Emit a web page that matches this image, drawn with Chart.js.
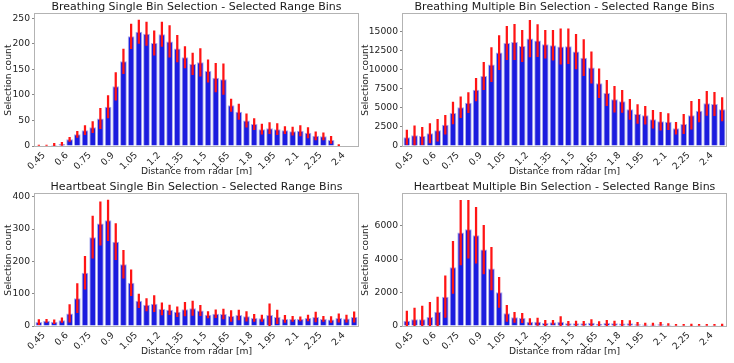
<!DOCTYPE html>
<html><head><meta charset="utf-8">
<script src="https://cdn.jsdelivr.net/npm/chart.js@4.4.1/dist/chart.umd.min.js"></script>
<style>
html,body{margin:0;padding:0;background:#fff;}
#wrap{position:relative;width:734px;height:363px;overflow:hidden;}
.p{position:absolute;height:181px;}
</style></head><body>
<div id="wrap">
<div class="p" style="left:0;top:0;width:367px"><canvas id="c1" width="367" height="181"></canvas></div>
<div class="p" style="left:0;top:180px;width:367px"><canvas id="c3" width="367" height="181"></canvas></div>
<div class="p" style="left:358px;top:0;width:376px"><canvas id="c2" width="376" height="181"></canvas></div>
<div class="p" style="left:358px;top:180px;width:376px"><canvas id="c4" width="376" height="181"></canvas></div>
</div>
<script>
// ---- data ----
const distances = ['0.45','0.5','0.55','0.6','0.65','0.7','0.75','0.8','0.85','0.9','0.95','1.0','1.05','1.1','1.15','1.2','1.25','1.3','1.35','1.4','1.45','1.5','1.55','1.6','1.65','1.7','1.75','1.8','1.85','1.9','1.95','2.0','2.05','2.1','2.15','2.2','2.25','2.3','2.35','2.4','2.45','2.5'];
const xTickLabels = ['0.45','0.6','0.75','0.9','1.05','1.2','1.35','1.5','1.65','1.8','1.95','2.1','2.25','2.4'];

const breathSingle    = [1,1,2,4,13,23,31,37,54,77,117,166,215,224,220,202,219,205,191,174,161,164,147,134,131,80,67,50,43,33,35,33,31,29,30,26,20,19,12,1,0,0];
const breathSingleErr = [1,1,3,3,4,6,9,11,20,22,27,24,24,23,23,24,24,31,26,21,21,27,22,28,30,12,15,13,11,10,11,11,7,8,10,10,8,7,7,2,0,0];

const breathMulti    = [1150,1400,1320,1670,2060,2800,4340,5090,5700,7410,9210,10700,12280,13550,13680,13160,14120,13860,13380,13250,13070,13110,12410,11620,10310,8250,6970,6140,5880,4830,4210,4040,3510,3250,3200,2330,2900,4040,4650,5610,5530,4830];
const breathMultiErr = [950,1250,1150,1270,1440,1230,1450,1360,1310,1490,1800,2240,2240,2190,2320,2060,2410,2100,1840,1970,2320,2280,2280,2370,2060,1900,1670,1700,1450,1320,1230,1180,1180,1180,1050,790,1270,1840,1490,1580,1540,1540];

const heartSingle    = [12,16,13,18,39,86,165,275,317,327,261,191,134,78,66,69,53,50,44,52,55,48,35,38,37,31,34,30,25,24,34,28,22,22,22,25,28,22,20,25,23,28];
const heartSingleErr = [8,5,6,7,27,45,51,65,67,63,56,43,40,21,19,25,19,15,15,21,22,16,10,12,15,17,15,15,11,10,35,21,11,8,6,9,15,8,9,13,11,16];

const heartMulti    = [320,400,400,540,860,1760,3520,5600,5800,5440,4580,3440,2020,760,520,480,260,260,180,220,260,160,160,160,200,140,180,160,150,160,110,90,90,110,70,50,50,50,50,50,50,50];
const heartMultiErr = [580,680,800,880,880,1240,1560,1940,1740,1680,1460,1280,900,480,300,280,180,220,160,120,300,120,140,120,180,120,160,140,190,160,110,90,90,110,70,50,50,60,50,50,50,70];

const yTicksBreathSingle = [0,50,100,150,200,250];
const yTicksBreathMulti  = [0,2500,5000,7500,10000,12500,15000];
const yTicksHeartSingle  = [0,100,200,300,400];
const yTicksHeartMulti   = [0,2000,4000,6000];

const titles = [
  'Breathing Single Bin Selection - Selected Range Bins',
  'Breathing Multiple Bin Selection - Selected Range Bins',
  'Heartbeat Single Bin Selection - Selected Range Bins',
  'Heartbeat Multiple Bin Selection - Selected Range Bins'
];
const yLimits = [258.4, 17330, 408, 7900];

// ---- rendering ----
Chart.defaults.font.family = "'DejaVu Sans', sans-serif";
Chart.defaults.color = '#222';

const framePlugin = {
  id: 'frame',
  afterDraw(chart) {
    const a = chart.chartArea, ctx = chart.ctx;
    ctx.save();
    ctx.strokeStyle = '#b3b3b3';
    ctx.lineWidth = 1;
    ctx.strokeRect(Math.round(a.left) - 0.5, Math.round(a.top) - 0.5, Math.round(a.right - a.left) + 1, Math.round(a.bottom - a.top) + 1);
    ctx.restore();
  }
};

function makeChart(id, title, values, errors, yTicks, yMax, axisWidth, padRight, yTitlePad) {
  const ranges = values.map((v, i) => errors[i] > 0 ? [v - errors[i], v + errors[i]] : null);
  new Chart(document.getElementById(id), {
    type: 'bar',
    data: {
      labels: distances,
      datasets: [
        { label: 'err', data: ranges, backgroundColor: '#ff1414', borderWidth: 0, barThickness: 1.6, grouped: false, order: 0 },
        { label: 'count', data: values, backgroundColor: 'rgb(28,28,222)', borderColor: 'rgb(175,175,238)', borderWidth: 1,
          categoryPercentage: 1, barPercentage: 0.88, grouped: false, order: 5 }
      ]
    },
    options: {
      responsive: false, animation: false, devicePixelRatio: 1,
      layout: { padding: { left: 0, right: padRight, top: 0, bottom: 0 } },
      plugins: {
        legend: { display: false }, tooltip: { enabled: false },
        title: { display: true, text: title, fullSize: false, color: '#1a1a1a',
                 font: { size: 11, weight: 'normal' }, padding: { top: 1, bottom: 0 } }
      },
      scales: {
        x: {
          type: 'category', offset: true,
          grid: { display: true, drawOnChartArea: false, tickLength: 3, offset: false, color: 'rgba(0,0,0,0)' },
          border: { display: false },
          ticks: { autoSkip: false, minRotation: 45, maxRotation: 45, padding: 1, labelOffset: 5,
                   font: { size: 9.2 },
                   callback: function (v, i) { const l = distances[i]; return xTickLabels.includes(l) ? l : ''; } },
          title: { display: true, text: 'Distance from radar [m]', font: { size: 9.2 }, padding: { top: 0, bottom: 4 } },
          afterFit: (s) => { s.height = 35; }
        },
        y: {
          min: 0, max: yMax,
          afterBuildTicks: (s) => { s.ticks = yTicks.map(v => ({ value: v })); },
          grid: { display: true, drawOnChartArea: false, tickLength: 3, color: '#888' },
          border: { display: false },
          ticks: { font: { size: 9.2 }, padding: 2, callback: (v) => String(v) },
          title: { display: true, text: 'Selection count', font: { size: 9.2 }, padding: { top: yTitlePad, bottom: 0 } },
          afterFit: (s) => { s.width = axisWidth; }
        }
      }
    },
    plugins: [framePlugin]
  });
}

makeChart('c1', titles[0], breathSingle, breathSingleErr, yTicksBreathSingle, yLimits[0], 35, 9, 3.5);
makeChart('c2', titles[1], breathMulti, breathMultiErr, yTicksBreathMulti, yLimits[1], 45, 8, 2.5);
makeChart('c3', titles[2], heartSingle, heartSingleErr, yTicksHeartSingle, yLimits[2], 35, 9, 3.5);
makeChart('c4', titles[3], heartMulti, heartMultiErr, yTicksHeartMulti, yLimits[3], 45, 8, 2.5);
</script>
</body></html>
